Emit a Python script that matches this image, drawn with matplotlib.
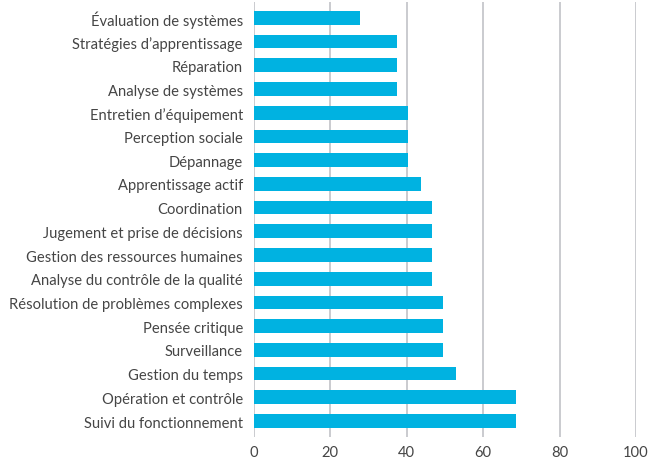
import matplotlib
matplotlib.use("Agg")
import matplotlib.pyplot as plt

# compétences, du haut vers le bas
competences = [
    "Évaluation de systèmes",
    "Stratégies d’apprentissage",
    "Réparation",
    "Analyse de systèmes",
    "Entretien d’équipement",
    "Perception sociale",
    "Dépannage",
    "Apprentissage actif",
    "Coordination",
    "Jugement et prise de décisions",
    "Gestion des ressources humaines",
    "Analyse du contrôle de la qualité",
    "Résolution de problèmes complexes",
    "Pensée critique",
    "Surveillance",
    "Gestion du temps",
    "Opération et contrôle",
    "Suivi du fonctionnement",
]
valeurs = [27.7, 37.5, 37.5, 37.5, 40.3, 40.3, 40.3, 43.7, 46.6, 46.6,
           46.6, 46.6, 49.5, 49.5, 49.5, 52.9, 68.6, 68.6]
x_ticks = [0, 20, 40, 60, 80, 100]

BAR_COLOR = "#00B2E1"
TEXT_COLOR = "#454545"
GRID_COLOR = "#C6C7CB"

plt.rcParams["font.family"] = ["Lato", "DejaVu Sans"]

fig = plt.figure(figsize=(6.49, 4.64), dpi=100)
ax = fig.add_axes([0.3914, 0.056, 0.5885, 0.9375])

pos = list(range(len(competences)))[::-1]
ax.barh(pos, valeurs, height=0.58, color=BAR_COLOR, zorder=3)

ax.set_xlim(0, 100)
ax.set_ylim(-0.675, len(competences) - 0.33)
ax.set_xticks(x_ticks)
ax.set_yticks(pos)
ax.set_yticklabels(competences)

ax.grid(axis="x", color=GRID_COLOR, linewidth=1.3, zorder=0)
ax.set_axisbelow(True)
for s in ax.spines.values():
    s.set_visible(False)
ax.tick_params(axis="both", length=0, labelsize=10.6, labelcolor=TEXT_COLOR)
ax.tick_params(axis="y", pad=8)
ax.tick_params(axis="x", pad=6)
for lbl in ax.get_xticklabels():
    lbl.set_clip_on(False)

fig.savefig("out.png", dpi=100)
